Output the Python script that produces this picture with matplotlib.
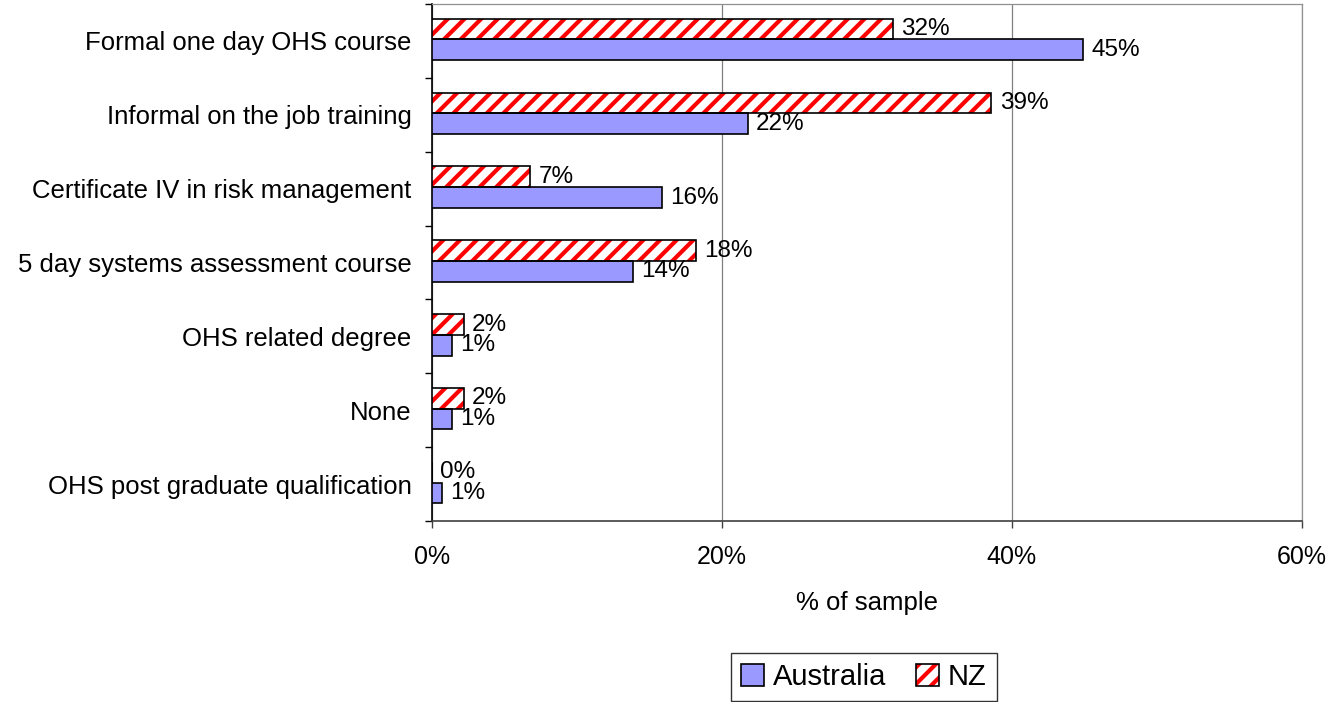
import matplotlib
matplotlib.use("Agg")
import matplotlib.pyplot as plt
from matplotlib.patches import Patch
from matplotlib.legend_handler import HandlerTuple
import numpy as np

plt.rcParams['font.family'] = ['Liberation Sans', 'DejaVu Sans']
plt.rcParams['hatch.linewidth'] = 3.0

categories = [
    "Formal one day OHS course",
    "Informal on the job training",
    "Certificate IV in risk management",
    "5 day systems assessment course",
    "OHS related degree",
    "None",
    "OHS post graduate qualification",
]
australia = [44.9, 21.8, 15.9, 13.9, 1.4, 1.4, 0.7]
nz = [31.8, 38.6, 6.8, 18.2, 2.2, 2.2, 0.0]
xticks = [0, 20, 40, 60]
xtick_labels = ["0%", "20%", "40%", "60%"]

fig = plt.figure(figsize=(13.31, 7.02), dpi=100)
ax = fig.add_axes([0.3243, 0.2578, 0.6537, 0.7365])

y = np.arange(len(categories))
h = 0.28
# NZ: red hatch layer + black outline layer
ax.barh(y - 0.16, nz, height=h, color='white', edgecolor='#FF0000',
        hatch='//', linewidth=0, zorder=3)
ax.barh(y - 0.16, nz, height=h, fill=False, edgecolor='black',
        linewidth=1.2, zorder=3.5)
ax.barh(y + 0.12, australia, height=h, color='#9999FF', edgecolor='black',
        linewidth=1.2, zorder=3)

for yi, v in zip(y - 0.16, nz):
    ax.annotate(f"{round(v):.0f}%", (v, yi), xytext=(6, 0), textcoords='offset points',
                va='center', ha='left', fontsize=17.5, zorder=4)
for yi, v in zip(y + 0.12, australia):
    ax.annotate(f"{round(v):.0f}%", (v, yi), xytext=(6, 0), textcoords='offset points',
                va='center', ha='left', fontsize=17.5, zorder=4)

ax.set_xlim(0, 60)
ax.set_ylim(len(categories) - 0.5, -0.5)
ax.set_xticks(xticks)
ax.set_xticklabels(xtick_labels, fontsize=18)
ax.set_yticks(y)
ax.set_yticklabels(categories, fontsize=18.5)
ax.set_yticks(np.arange(len(categories) + 1) - 0.5, minor=True)
ax.tick_params(axis='y', which='major', length=0, pad=14.5)
ax.tick_params(axis='y', which='minor', length=5, width=1, direction='out', color='black')
ax.tick_params(axis='x', which='major', length=5, width=1, direction='out', pad=12, color='#404040')

ax.grid(axis='x', color='#808080', linewidth=0.9, zorder=0)
for s in ['top', 'right']:
    ax.spines[s].set_color('#909090')
    ax.spines[s].set_linewidth(0.9)
ax.spines['left'].set_color('black')
ax.spines['left'].set_linewidth(1.2)
ax.spines['bottom'].set_color('#404040')
ax.spines['bottom'].set_linewidth(1.2)

fig.text(866.5 / 1331, 1 - 610 / 702, "% of sample", ha='center', va='baseline', fontsize=18.5)

h_au = Patch(facecolor='#9999FF', edgecolor='black', linewidth=1.2)
h_nz_fill = Patch(facecolor='white', edgecolor='#FF0000', hatch='//', linewidth=0)
h_nz_edge = Patch(fill=False, edgecolor='black', linewidth=1.2)
leg = fig.legend([h_au, (h_nz_fill, h_nz_edge)], ['Australia', 'NZ'], loc='upper center',
                 bbox_to_anchor=(0.649, 1 - 653 / 702), ncol=2, fontsize=21,
                 frameon=True, fancybox=False, edgecolor='black', borderaxespad=0,
                 handlelength=0.8, handleheight=0.8, handletextpad=0.3,
                 columnspacing=1.0, borderpad=0.35,
                 handler_map={tuple: HandlerTuple(ndivide=1)})
leg.get_frame().set_linewidth(1.0)

fig.savefig("out.png", dpi=100)
